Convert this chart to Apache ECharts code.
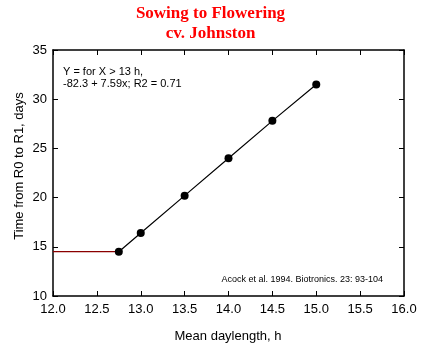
<!DOCTYPE html>
<html>
<head>
<meta charset="utf-8">
<script src="https://cdn.jsdelivr.net/npm/echarts@6/dist/echarts.min.js"></script>
<style>
  html, body { margin: 0; padding: 0; background: #fff; }
  #chart { width: 421px; height: 347px; }
</style>
</head>
<body>
<div id="chart"></div>
<script>
// Sowing-to-flowering duration vs. mean daylength (cv. Johnston)
const daylength = [12.75, 13.0, 13.5, 14.0, 14.5, 15.0];
const daysToR1 = [14.5, 16.4, 20.2, 24.0, 27.8, 31.5];
// Constant duration below the critical daylength
const baseDaylength = [12.0, 12.75];
const baseDays = [14.5, 14.5];

const titleLines = ['Sowing to Flowering', 'cv. Johnston'];
const equationLines = ['Y = for X > 13 h,', '-82.3 + 7.59x; R2 = 0.71'];
const sourceNote = 'Acock et al. 1994. Biotronics. 23: 93-104';
const xName = 'Mean daylength, h';
const yName = 'Time from R0 to R1, days';

const chart = echarts.init(document.getElementById('chart'), null, { renderer: 'canvas' });
const sans = '"Liberation Sans", Arial, sans-serif';
const serifTitle = 'bold 17px "Liberation Serif", "Times New Roman", serif';
const frameTick = { show: true, inside: true, length: 5, lineStyle: { color: '#000', width: 1 } };
const frameLine = { show: true, lineStyle: { color: '#000', width: 1.5 } };

chart.setOption({
  animation: false,
  backgroundColor: '#fff',
  grid: { left: 53, right: 17, top: 50, bottom: 51 },
  xAxis: [
    {
      type: 'value', min: 12, max: 16, interval: 0.5,
      axisLine: frameLine, axisTick: frameTick, splitLine: { show: false },
      axisLabel: { color: '#000', fontFamily: sans, fontSize: 13, margin: 7,
        formatter: v => v.toFixed(1) }
    },
    {
      type: 'value', position: 'top', min: 12, max: 16, interval: 0.5,
      axisLine: frameLine, axisTick: frameTick, splitLine: { show: false },
      axisLabel: { show: false }
    }
  ],
  yAxis: [
    {
      type: 'value', min: 10, max: 35, interval: 5,
      axisLine: frameLine, axisTick: frameTick, splitLine: { show: false },
      axisLabel: { color: '#000', fontFamily: sans, fontSize: 13, margin: 6 }
    },
    {
      type: 'value', position: 'right', min: 10, max: 35, interval: 5,
      axisLine: frameLine, axisTick: frameTick, splitLine: { show: false },
      axisLabel: { show: false }
    }
  ],
  series: [
    {
      type: 'line',
      data: baseDaylength.map((x, i) => [x, baseDays[i]]),
      showSymbol: false, symbol: 'none',
      lineStyle: { color: '#8b0000', width: 1.2 },
      z: 2
    },
    {
      type: 'line',
      data: daylength.map((x, i) => [x, daysToR1[i]]),
      symbol: 'circle', symbolSize: 8,
      itemStyle: { color: '#000' },
      lineStyle: { color: '#000', width: 1.2 },
      z: 3
    }
  ],
  graphic: [
    { type: 'text', left: 'center', top: 5,
      style: { text: titleLines[0], font: serifTitle, fill: '#ff0000' } },
    { type: 'text', left: 'center', top: 25,
      style: { text: titleLines[1], font: serifTitle, fill: '#ff0000' } },
    { type: 'text', left: 63, top: 66,
      style: { text: equationLines.join('\n'), font: '11px ' + sans, fill: '#000', lineHeight: 12 } },
    { type: 'text', right: 38, top: 275,
      style: { text: sourceNote, font: '9px ' + sans, fill: '#000' } },
    { type: 'text', x: 228, y: 336,
      style: { text: xName, font: '13px ' + sans, fill: '#000', align: 'center', verticalAlign: 'middle' } },
    { type: 'text', x: 19, y: 166, rotation: Math.PI / 2,
      style: { text: yName, font: '13px ' + sans, fill: '#000', align: 'center', verticalAlign: 'middle' } }
  ]
});
</script>
</body>
</html>
